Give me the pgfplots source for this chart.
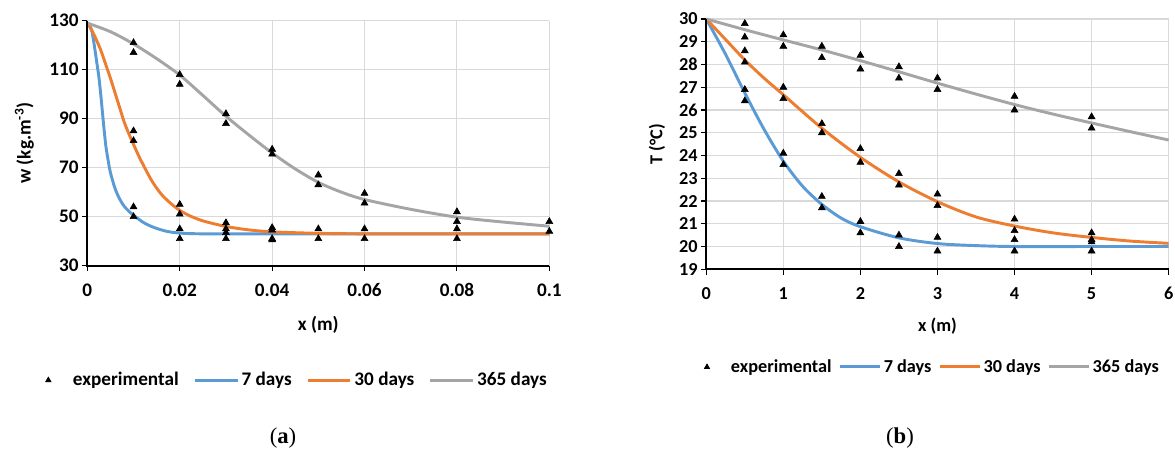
\documentclass[border=0pt]{standalone}
\usepackage{pgfplots}
\pgfplotsset{compat=1.18}
\usepackage{fontspec}
\setmainfont{Carlito}
\newfontfamily\capfont{Liberation Serif}
\definecolor{cblue}{HTML}{5B9BD5}
\definecolor{corange}{HTML}{ED7D31}
\definecolor{cgray}{HTML}{A5A5A5}
\definecolor{cgrid}{HTML}{D9D9D9}
\pgfplotsset{
  excel/.style={
    scale only axis,
    axis line style={draw=none},
    tick pos=left, tick align=outside,
    major tick length=4pt,
    tick style={black, line width=0.8pt},
    grid=major, grid style={cgrid, line width=0.8pt},
    scaled ticks=false,
    legend cell align=left,
    clip=false,
  },
  legA/.style={legend image code/.code={\draw[##1] (0pt,0pt) -- (32pt,0pt); \path[draw=none,fill=none] (0pt,0pt) -- (35pt,0pt);}},
  legB/.style={legend image code/.code={\draw[##1] (0pt,0pt) -- (30pt,0pt); \path[draw=none,fill=none] (0pt,0pt) -- (33pt,0pt);}},
  expA/.style={legend image code/.code={\path[draw=none,fill=none] (-3pt,-3pt) rectangle (18.5pt,3pt);
    \path[black] plot[only marks, mark=triangle*, mark size=2.4pt, mark options={fill=black,draw=black}] coordinates {(0pt,0pt)};}},
  expB/.style={legend image code/.code={\path[draw=none,fill=none] (-3pt,-3pt) rectangle (18pt,3pt);
    \path[black] plot[only marks, mark=triangle*, mark size=2.3pt, mark options={fill=black,draw=black}] coordinates {(0pt,0pt)};}},
}
\newcommand{\lfont}{\fontsize{14.4}{16}\selectfont\bfseries}
\newcommand{\rfont}{\fontsize{13.7}{15}\selectfont\bfseries}

% ---- data: panel (a) ----
\pgfplotstableread{
x y
0.01 121
0.01 117
0.01 85
0.01 81
0.01 54
0.01 50
0.02 108
0.02 104
0.02 55
0.02 51
0.02 45
0.02 41
0.03 92
0.03 88
0.03 47.5
0.03 45
0.03 43.5
0.03 41
0.04 77.5
0.04 75.5
0.04 45.5
0.04 44.5
0.04 41
0.04 40.5
0.05 67
0.05 63
0.05 45
0.05 41
0.06 59.5
0.06 55.5
0.06 45
0.06 41
0.08 52
0.08 48
0.08 45
0.08 41
0.1 48
0.1 44
}\expAdata
\pgfplotstableread{
x y
0 129
0.0005 128
0.001 125.5
0.0015 120
0.002 113.5
0.0025 107
0.003 98
0.0035 88
0.004 79
0.0045 73
0.005 68
0.006 61.5
0.007 57.2
0.008 54.2
0.009 52.2
0.01 50.6
0.012 47.8
0.014 45.9
0.017 44.1
0.02 43.3
0.025 43
0.04 43
0.06 43
0.08 43
0.1 43
}\sevenA
\pgfplotstableread{
x y
0 129
0.001 126
0.002 122
0.003 117.5
0.004 112
0.005 106.5
0.006 100.5
0.007 94.5
0.008 88.5
0.009 83.8
0.010 79.5
0.011 75.3
0.012 71.5
0.014 64.5
0.016 59.2
0.018 55.5
0.020 52.6
0.022 50.5
0.025 48.3
0.030 46
0.035 44.6
0.040 43.8
0.050 43.2
0.060 43
0.080 43
0.1 43
}\thirtyA
\pgfplotstableread{
x y
0 129
0.005 125.5
0.01 120.5
0.015 114.5
0.02 107.8
0.025 99.5
0.03 91
0.035 83.3
0.04 76
0.045 69.5
0.05 64
0.055 60
0.06 57
0.07 53
0.08 49.8
0.09 47.8
0.1 46.1
}\yearA

% ---- data: panel (b) ----
\pgfplotstableread{
x y
0.5 29.8
0.5 29.2
0.5 28.6
0.5 28.1
0.5 26.9
0.5 26.4
1 29.3
1 28.8
1 27.0
1 26.5
1 24.1
1 23.6
1.5 28.8
1.5 28.3
1.5 25.4
1.5 25.0
1.5 22.2
1.5 21.7
2 28.4
2 27.8
2 24.3
2 23.7
2 21.1
2 20.6
2.5 27.9
2.5 27.4
2.5 23.2
2.5 22.7
2.5 20.5
2.5 20.0
3 27.4
3 26.9
3 22.3
3 21.8
3 20.4
3 19.8
4 26.6
4 26.0
4 21.2
4 20.7
4 20.3
4 19.8
5 25.7
5 25.2
5 20.6
5 20.3
5 20.2
5 19.8
}\expBdata
\pgfplotstableread{
x y
0 30
0.25 28.45
0.5 26.75
0.75 25.15
1 23.75
1.25 22.65
1.5 21.85
1.75 21.25
2 20.87
2.5 20.38
3 20.13
3.5 20.04
4 20.0
5 20.0
6 20.0
}\sevenB
\pgfplotstableread{
x y
0 30
0.25 29.1
0.5 28.2
0.75 27.4
1 26.67
1.5 25.2
2 23.92
2.5 22.84
3 21.97
3.5 21.3
4 20.9
4.5 20.6
5 20.4
5.5 20.24
6 20.14
}\thirtyB
\pgfplotstableread{
x y
0 30
0.5 29.53
1 29.08
1.5 28.64
2 28.17
2.5 27.68
3 27.18
3.5 26.7
4 26.24
4.5 25.82
5 25.43
5.5 25.05
6 24.68
}\yearB

\begin{document}
\begin{tikzpicture}
\useasboundingbox (0pt,0pt) rectangle (881.25pt,341.25pt);

% ================= panel (a) =================
\begin{axis}[excel,
  at={(65.5pt,142pt)}, anchor=south west,
  width=346.5pt, height=183.75pt,
  xmin=0, xmax=0.1, ymin=30, ymax=130,
  xtick={0,0.02,0.04,0.06,0.08,0.1},
  xticklabels={0,0.02,0.04,0.06,0.08,0.1},
  ytick={30,50,70,90,110,130},
  yticklabels={30,50,70,90,110,130},
  tick label style={font=\lfont},
  xticklabel style={yshift=-6pt},
  yticklabel style={xshift=1pt},
  label style={font=\lfont},
  xlabel={x (m)},
  ylabel={w (kg.m\textsuperscript{-3})},
  x label style={at={(axis description cs:0.5,-0.24)}, anchor=center},
  y label style={at={(axis description cs:-0.1364,0.5)}, anchor=center, rotate=0},
  legend style={at={(-0.0931,-0.4675)}, anchor=west, draw=none, fill=none,
    inner sep=0pt, outer sep=0pt, legend columns=-1, font=\lfont,
    nodes={inner xsep=0pt, inner ysep=1pt}, column sep=0pt,
    /tikz/every even column/.append style={column sep=11pt}},
]
\addplot[only marks, mark=triangle*, mark size=3pt, black, expA]
  table[x=x,y=y] {\expAdata};
\addlegendentry{experimental}
\addplot[cblue, line width=2.2pt, smooth, mark=none, legA]
  table[x=x,y=y] {\sevenA};
\addlegendentry{7 days}
\addplot[corange, line width=2.2pt, smooth, mark=none, legA]
  table[x=x,y=y] {\thirtyA};
\addlegendentry{30 days}
\addplot[cgray, line width=2.2pt, smooth, mark=none, legA]
  table[x=x,y=y] {\yearA};
\addlegendentry{365 days}
\draw[black, line width=1.5pt] (rel axis cs:0,1) -- (rel axis cs:0,0) -- (rel axis cs:1,0);
\end{axis}

% ================= panel (b) =================
\begin{axis}[excel,
  at={(529.7pt,139.3pt)}, anchor=south west,
  width=346.8pt, height=187.7pt,
  xmin=0, xmax=6, ymin=19, ymax=30,
  xtick={0,1,2,3,4,5,6},
  xticklabels={0,1,2,3,4,5,6},
  ytick={19,20,21,22,23,24,25,26,27,28,29,30},
  yticklabels={19,20,21,22,23,24,25,26,27,28,29,30},
  tick label style={font=\rfont},
  xticklabel style={yshift=-6pt},
  yticklabel style={xshift=1pt},
  label style={font=\rfont},
  xlabel={x (m)},
  ylabel={T (°C)},
  x label style={at={(axis description cs:0.5,-0.2265)}, anchor=center},
  y label style={at={(axis description cs:-0.1066,0.5)}, anchor=center, rotate=0},
  legend style={at={(-0.0071,-0.3903)}, anchor=west, draw=none, fill=none,
    inner sep=0pt, outer sep=0pt, legend columns=-1, font=\rfont,
    nodes={inner xsep=0pt, inner ysep=1pt}, column sep=0pt,
    /tikz/every even column/.append style={column sep=5pt}},
]
\addplot[only marks, mark=triangle*, mark size=3pt, black, expB]
  table[x=x,y=y] {\expBdata};
\addlegendentry{experimental}
\addplot[cblue, line width=2.2pt, smooth, mark=none, legB]
  table[x=x,y=y] {\sevenB};
\addlegendentry{7 days}
\addplot[corange, line width=2.2pt, smooth, mark=none, legB]
  table[x=x,y=y] {\thirtyB};
\addlegendentry{30 days}
\addplot[cgray, line width=2.2pt, smooth, mark=none, legB]
  table[x=x,y=y] {\yearB};
\addlegendentry{365 days}
\draw[black, line width=1.5pt] (rel axis cs:0,1) -- (rel axis cs:0,0) -- (rel axis cs:1,0);
\end{axis}

% captions
\node[font=\capfont\fontsize{17}{20}\selectfont] at (212.25pt,12.75pt) {(\textbf{a})};
\node[font=\capfont\fontsize{17}{20}\selectfont] at (675pt,12.75pt) {(\textbf{b})};
\end{tikzpicture}
\end{document}
